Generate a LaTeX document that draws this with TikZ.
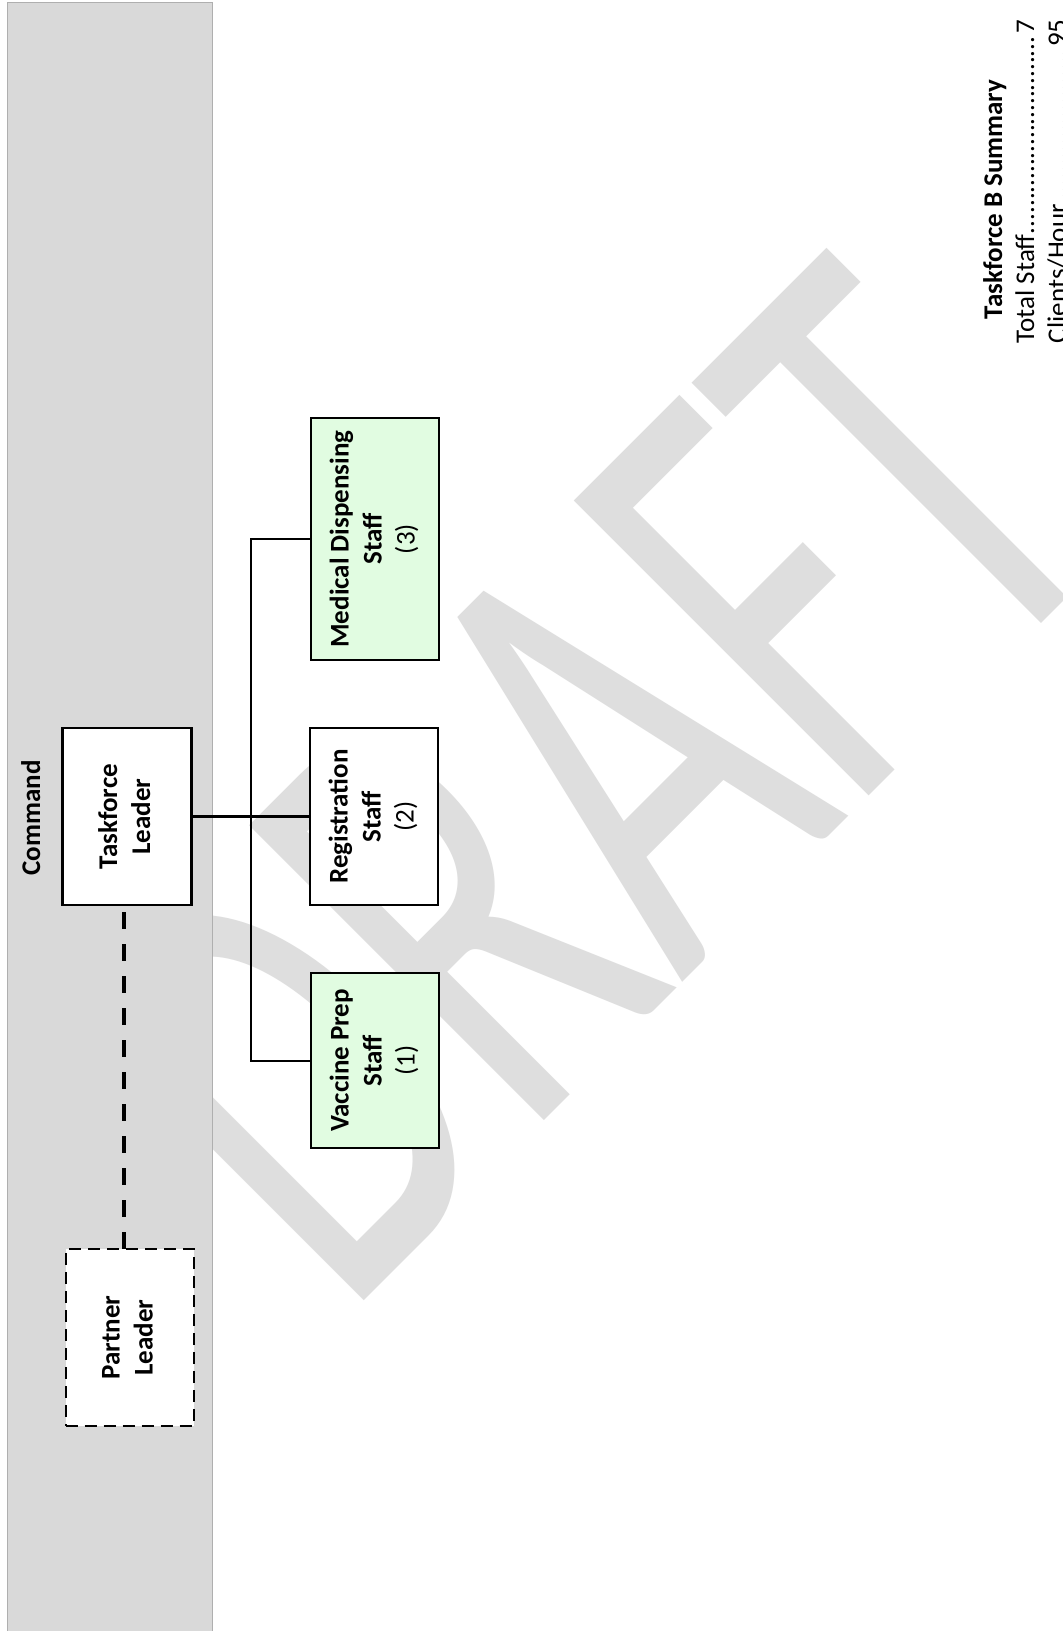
\documentclass[tikz,border=0pt]{standalone}
\usepackage{fontspec}
\usepackage{graphicx}
\setmainfont{Carlito}
\newfontfamily\wmfont{Carlito}

\definecolor{bandgray}{RGB}{217,217,217}
\definecolor{bandedge}{RGB}{175,175,175}
\definecolor{wmgray}{RGB}{222,222,222}
\definecolor{staffgreen}{RGB}{225,252,225}

% two- or three-line label set upright and turned to read bottom to top
\newcommand{\rotlabel}[1]{\rotatebox{90}{\begin{tabular}{@{}c@{}}#1\end{tabular}}}

\begin{document}
\begin{tikzpicture}[x=1pt,y=-1pt,
  every node/.style={inner sep=0pt, outer sep=0pt},
  txt/.style={font=\fontsize{27pt}{33pt}\selectfont, text=black},
  unit/.style={txt, draw=black, line width=2pt, fill=white},
  greenunit/.style={unit, fill=staffgreen},
  leadunit/.style={unit, line width=2.6pt},
  partnerunit/.style={unit, dash pattern=on 12pt off 7pt},
  link/.style={draw=black, line width=2pt},
  partnerlink/.style={draw=black, line width=4pt, dash pattern=on 17pt off 15pt, dash phase=25pt},
  watermark/.style={text=wmgray, font=\wmfont\fontsize{650pt}{650pt}\selectfont}
]
\useasboundingbox (0,0) rectangle (1063,1631);
\fill[white] (0,0) rectangle (1063,1631);

% watermark behind everything
\node[watermark, anchor=base west, rotate=45] (wm) at (344.5,1320.5) {\scalebox{0.633}[1]{DRAFT}};

% command band
\node[draw=bandedge, fill=bandgray, line width=1pt, anchor=north west,
      minimum width=205pt, minimum height=1640pt] (band) at (7,2) {};
\node[txt, font=\bfseries\fontsize{27pt}{33pt}\selectfont, rotate=90, anchor=base] (cmd) at (40,818) {Command};

% units
\node[leadunit, minimum width=129pt, minimum height=177pt] (tl) at (127,816.5)
  {\rotlabel{\bfseries Taskforce\\\bfseries Leader}};
\node[partnerunit, minimum width=128pt, minimum height=177pt] (pl) at (129.5,1337.5)
  {\rotlabel{\bfseries Partner\\\bfseries Leader}};
\node[unit, minimum width=128pt, minimum height=177pt] (reg) at (374,816.5)
  {\rotlabel{\bfseries Registration\\\bfseries Staff\\(2)}};
\node[greenunit, minimum width=128pt, minimum height=175pt] (vac) at (375,1060.5)
  {\rotlabel{\bfseries Vaccine Prep\\\bfseries Staff\\(1)}};
\node[greenunit, minimum width=128pt, minimum height=242pt] (med) at (375,539)
  {\rotlabel{\bfseries Medical Dispensing\\\bfseries Staff\\(3)}};

% connectors
\coordinate (bus) at (251,816.5);
\draw[link, line width=2.6pt] (tl.east) -- (reg.west);
\draw[link] (med.west) -| (bus) |- (vac.west);
\draw[partnerlink] ([xshift=-3pt]tl.south) -- ([xshift=-5.5pt]pl.north);

% summary
\node[txt, font=\bfseries\fontsize{27pt}{33pt}\selectfont, rotate=90, anchor=base west] (sumtitle) at (1002,319) {Taskforce B Summary};
\node[txt, rotate=90, anchor=base west] (sumstaff) at (1034,343)
  {\makebox[324pt][l]{Total Staff\leaders\hbox{.}\hfill 7}};
\node[txt, rotate=90, anchor=base west] (sumclients) at (1066,343)
  {\makebox[324pt][l]{Clients/Hour\leaders\hbox{.}\hfill 95}};
\end{tikzpicture}
\end{document}
